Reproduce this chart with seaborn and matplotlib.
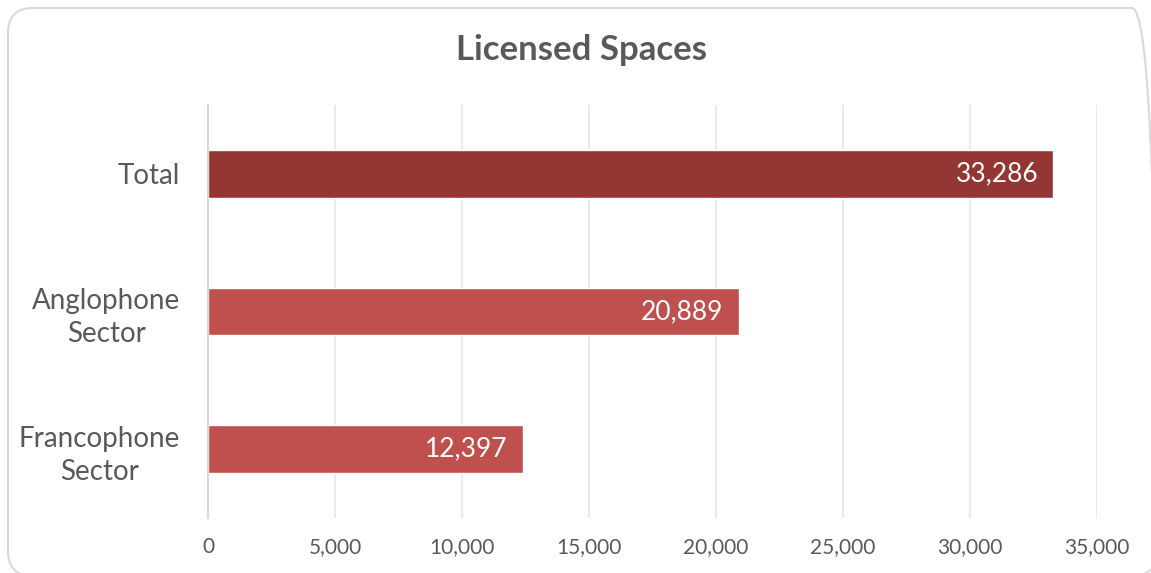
import matplotlib
matplotlib.use("Agg")
import matplotlib.pyplot as plt
import seaborn as sns
import pandas as pd
from matplotlib.patches import FancyBboxPatch
from matplotlib.ticker import FuncFormatter, MultipleLocator

categories = ["Total", "Anglophone\nSector", "Francophone\nSector"]
values = [33286, 20889, 12397]
colors = ["#943634", "#C0504D", "#C0504D"]

sns.set_theme(style="white")
plt.rcParams['font.family'] = ['Lato', 'DejaVu Sans']

df = pd.DataFrame({"cat": categories, "val": values})

fig = plt.figure(figsize=(11.51, 5.73), dpi=100)
ax = fig.add_axes([0.1807, 0.096, 0.7724, 0.7208])

sns.barplot(data=df, x="val", y="cat", hue="cat", palette=colors, legend=False,
            width=0.345, ax=ax, orient="h", saturation=1)

ax.set_xlim(0, 35000)
ax.set_ylim(2.5, -0.5)
ax.xaxis.set_major_locator(MultipleLocator(5000))
ax.xaxis.set_major_formatter(FuncFormatter(lambda v, p: f"{int(v):,}"))
ax.grid(axis="x", color="#e6e6e6", linewidth=1.2)
ax.set_axisbelow(True)
for s in ["top", "right", "bottom"]:
    ax.spines[s].set_visible(False)
ax.spines["left"].set_color("#d9d9d9")
ax.spines["left"].set_linewidth(1.5)
ax.set_xlabel("")
ax.set_ylabel("")
ax.tick_params(axis="x", labelsize=15, colors="#595959", length=0, pad=14)
ax.tick_params(axis="y", labelsize=20, colors="#595959", length=0, pad=20)
for lbl in ax.get_yticklabels():
    lbl.set_horizontalalignment("right")
    lbl.set_multialignment("center")
    lbl.set_linespacing(1.35)

for i, v in enumerate(values):
    ax.text(v - 600, i, f"{v:,}", ha="right", va="center", color="white", fontsize=19)

fig.text(0.505, 0.912, "Licensed Spaces", ha="center", va="center",
         fontsize=25, fontweight="bold", color="#595959")

border = FancyBboxPatch((0.08, -0.03), 11.49, 5.68,
                        boxstyle="round,pad=0,rounding_size=0.25",
                        transform=fig.dpi_scale_trans, fill=False,
                        edgecolor="#d9d9d9", linewidth=1.5)
fig.patches.append(border)

fig.savefig("out.png", dpi=100)
